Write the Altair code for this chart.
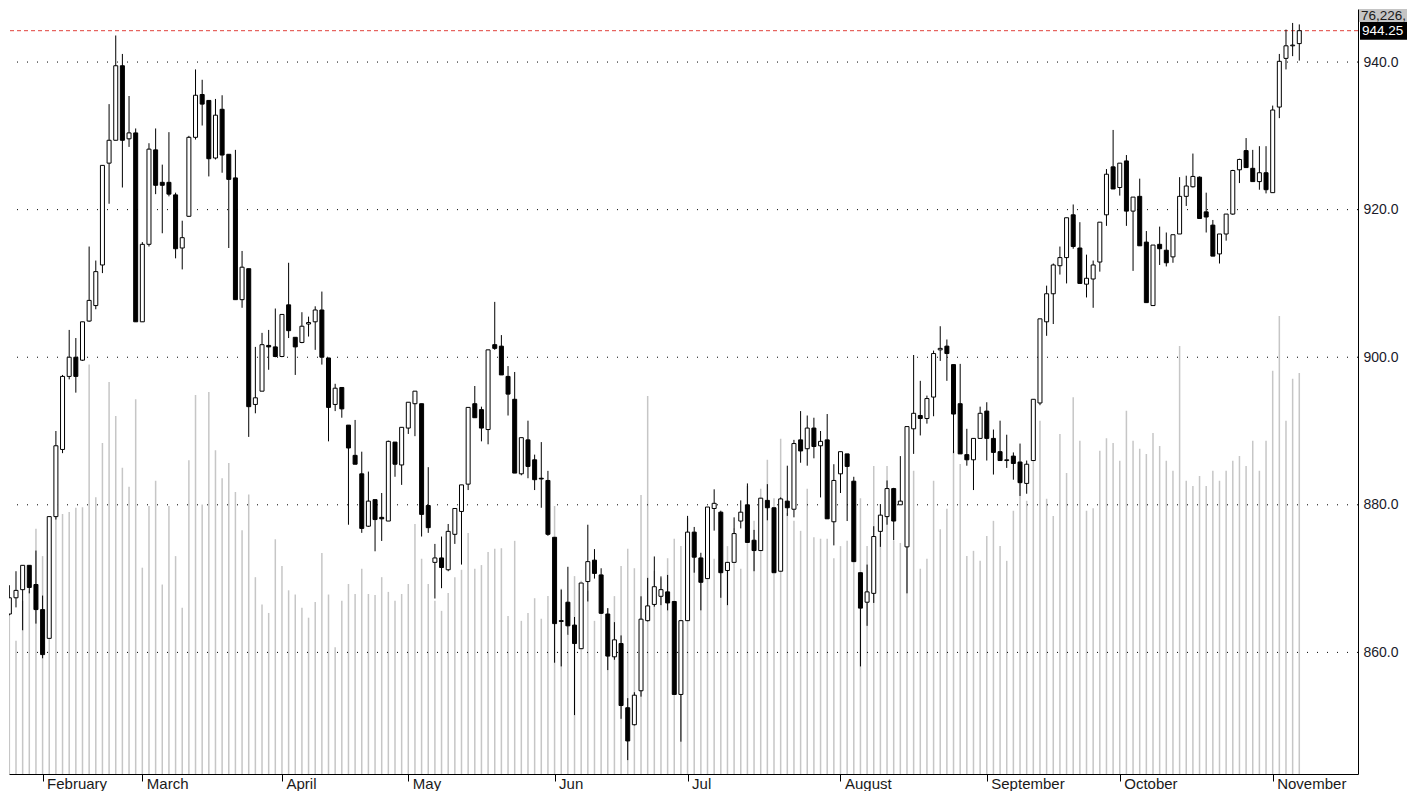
import altair as alt
import pandas as pd

# ---- data (daily candles, Feb..Nov) ----
opens = [861.4, 865.2, 867.4, 868.5, 871.8, 869.2, 865.8, 861.9, 878.4, 887.5,
         897.4, 900.0, 899.6, 904.9, 907.0, 912.5, 926.3, 929.4, 939.5, 929.6,
         930.4, 904.8, 915.3, 928.1, 923.7, 923.7,
         922.0, 914.8, 919.1, 929.8, 935.6, 934.8, 927.0, 933.6, 927.5, 924.3,
         907.8, 912.0, 893.6, 895.4, 901.6, 901.4, 900.1, 907.1, 902.7, 902.0,
         904.5, 904.8, 906.4, 899.9,
         893.6, 895.9, 890.8, 886.7, 884.2, 877.1, 880.7, 878.3, 877.8, 888.5,
         885.4, 890.4, 893.7, 893.7, 879.9, 872.2, 872.8, 871.2, 876.0, 879.1,
         882.8, 893.7, 892.9, 890.2, 901.7,
         901.5, 897.4, 894.3, 884.2, 888.8, 886.1, 883.6, 883.3, 875.6, 864.3,
         866.8, 863.7, 860.5, 869.6, 872.5, 870.5, 865.2, 859.4, 861.2, 852.5,
         850.2, 854.8, 864.3, 866.5, 867.6,
         868.2, 866.9, 854.3, 864.3, 876.3, 872.8, 870.0, 879.5, 879.0, 871.1,
         872.2, 877.8, 880.0, 875.2, 873.8, 880.6, 879.6, 871.0, 880.5, 879.4,
         888.8, 887.6, 890.4, 888.0, 888.8,
         877.7, 884.2, 886.9, 883.2, 870.8, 866.8, 868.0, 876.4, 878.4, 882.2,
         880.0, 874.3, 890.3, 892.1, 891.7, 894.6, 901.0, 901.5, 899.0, 893.7,
         886.8, 886.1, 889.0, 892.7,
         889.0, 887.2, 886.0, 886.6, 885.8, 882.9, 886.0, 893.8, 904.8, 908.6,
         912.4, 913.5, 919.3, 914.8, 909.9, 910.6, 912.9, 919.3, 925.8, 923.0,
         926.6, 919.8, 921.8, 915.6, 907.0,
         915.3, 914.5, 913.6, 916.7, 921.8, 923.1, 924.4, 919.7, 917.9, 914.0,
         916.7, 919.4, 925.4, 928.0, 925.6, 923.8, 925.0, 922.3, 933.9, 940.5,
         942.2, 942.5]

highs = [866.0, 869.1, 871.0, 871.8, 871.8, 873.8, 867.7, 878.4, 890.0, 897.6,
         903.7, 902.6, 904.8, 915.0, 913.1, 926.0, 934.3, 943.6, 941.1, 935.4,
         931.0, 915.6, 929.0, 931.0, 926.1, 930.5,
         922.3, 918.5, 930.0, 939.0, 937.6, 934.8, 935.0, 935.5, 927.5, 928.1,
         914.4, 912.0, 901.4, 903.3, 903.7, 906.6, 905.8, 912.8, 902.7, 906.1,
         905.5, 906.9, 908.9, 899.9,
         896.4, 895.9, 890.8, 891.5, 887.2, 884.5, 880.7, 881.6, 888.7, 888.5,
         890.5, 893.9, 895.4, 893.7, 885.1, 874.7, 875.7, 877.4, 879.5, 882.7,
         893.2, 896.1, 893.3, 901.0, 907.5,
         903.0, 898.8, 898.0, 889.1, 891.4, 886.8, 888.5, 884.6, 875.6, 868.5,
         871.6, 864.8, 869.4, 877.3, 874.0, 871.4, 866.0, 864.1, 862.3, 853.8,
         854.6, 867.6, 870.1, 873.0, 870.3,
         870.5, 866.9, 864.3, 878.5, 877.0, 873.5, 879.7, 882.1, 879.2, 872.2,
         878.3, 880.6, 882.9, 876.6, 880.9, 882.8, 879.6, 881.0, 885.3, 888.8,
         892.7, 892.1, 891.8, 890.0, 892.3,
         885.5, 887.2, 886.9, 883.8, 870.8, 871.9, 877.1, 880.1, 883.3, 882.3,
         886.6, 890.6, 900.3, 896.8, 894.8, 900.9, 904.2, 902.4, 899.0, 899.1,
         890.3, 889.0, 893.3, 893.9,
         890.2, 891.4, 889.5, 887.1, 888.3, 886.0, 894.3, 905.2, 909.7, 912.7,
         915.0, 918.9, 920.7, 918.3, 913.9, 913.1, 918.3, 925.5, 930.8, 926.3,
         927.4, 921.7, 924.2, 917.1, 915.2,
         917.7, 916.9, 916.6, 924.4, 924.6, 927.6, 924.5, 922.3, 918.6, 916.7,
         919.4, 925.4, 926.9, 929.7, 928.1, 928.6, 928.6, 934.1, 941.1, 944.4,
         945.3, 945.1]

lows = [861.0, 865.0, 866.1, 863.0, 868.0, 863.9, 859.2, 861.9, 878.0, 887.0,
        897.0, 895.2, 899.5, 904.8, 906.5, 911.4, 920.8, 929.4, 923.0, 928.5,
        904.8, 904.8, 915.0, 922.1, 916.8, 921.8,
        913.4, 911.9, 919.0, 929.5, 931.4, 924.5, 926.8, 925.0, 914.8, 907.8,
        906.7, 889.2, 892.4, 895.4, 898.3, 900.0, 900.0, 902.6, 897.6, 901.9,
        902.8, 901.0, 899.0, 888.6,
        892.7, 891.8, 877.3, 885.5, 876.2, 877.0, 873.7, 875.1, 877.8, 883.8,
        882.7, 889.6, 889.3, 875.7, 876.2, 867.3, 868.7, 871.0, 874.7, 871.9,
        882.0, 891.8, 888.6, 888.2, 901.0,
        897.6, 892.1, 884.3, 884.0, 883.6, 882.0, 879.6, 875.8, 858.6, 858.1,
        862.4, 851.5, 860.5, 866.9, 870.0, 865.2, 857.6, 859.0, 851.0, 845.4,
        850.1, 854.0, 864.2, 866.2, 866.4,
        865.7, 854.3, 847.9, 864.3, 870.8, 865.7, 870.0, 876.5, 867.4, 866.4,
        872.2, 876.8, 874.9, 871.0, 873.8, 877.9, 870.8, 871.0, 878.5, 878.3,
        885.7, 885.3, 886.3, 881.0, 878.1,
        874.5, 881.6, 877.8, 872.3, 858.1, 863.6, 866.7, 874.3, 877.3, 875.2,
        880.0, 868.0, 886.9, 889.4, 891.0, 892.0, 899.5, 896.8, 887.0, 886.9,
        885.3, 882.0, 889.0, 886.0,
        884.1, 886.0, 885.0, 883.4, 881.2, 881.5, 886.0, 893.5, 902.9, 904.5,
        911.2, 910.0, 914.7, 910.0, 908.1, 906.7, 911.6, 917.8, 922.8, 921.9,
        917.8, 911.7, 915.1, 907.4, 907.0,
        912.5, 912.3, 912.8, 916.7, 920.5, 923.0, 918.8, 916.9, 913.7, 912.7,
        915.8, 919.3, 923.6, 925.7, 923.8, 922.7, 922.2, 922.3, 932.4, 939.0,
        940.8, 940.2]

closes = [865.2, 867.4, 868.4, 871.8, 868.8, 865.8, 859.7, 878.4, 888.0, 897.4,
          900.0, 897.4, 904.8, 907.7, 911.6, 926.0, 929.4, 939.5, 929.4, 930.4,
          904.8, 915.3, 928.2, 923.3, 923.3, 922.1,
          914.7, 916.2, 929.8, 935.5, 934.3, 926.9, 932.8, 927.4, 924.1, 907.8,
          912.2, 893.3, 894.5, 901.7, 901.4, 900.1, 905.8, 903.6, 901.4, 904.2,
          904.7, 906.4, 900.0, 893.2,
          895.8, 893.0, 887.7, 885.5, 876.8, 880.5, 878.0, 878.1, 888.6, 885.5,
          890.5, 893.9, 895.4, 878.7, 876.9, 872.8, 871.5, 876.4, 879.5, 882.7,
          893.2, 891.8, 890.4, 901.0, 901.2,
          897.6, 895.0, 884.3, 889.1, 885.2, 883.4, 883.5, 876.0, 863.9, 864.2,
          863.6, 861.2, 869.4, 872.3, 870.7, 865.3, 859.5, 861.7, 852.8, 848.0,
          854.2, 864.5, 866.3, 868.9, 868.5,
          866.7, 854.3, 864.3, 876.3, 872.9, 869.5, 879.7, 880.2, 870.8, 872.2,
          876.1, 879.0, 874.9, 873.8, 880.9, 879.6, 870.8, 880.8, 879.6, 888.3,
          887.3, 890.4, 887.9, 888.6, 878.1,
          883.3, 887.2, 885.2, 872.3, 866.0, 868.2, 875.7, 878.6, 882.2, 877.8,
          880.5, 890.6, 892.4, 891.7, 894.4, 900.5, 901.2, 900.5, 892.3, 886.9,
          886.1, 889.0, 892.4, 889.0,
          887.1, 886.0, 886.1, 885.6, 883.0, 885.5, 894.3, 905.2, 908.6, 912.5,
          913.5, 918.9, 915.0, 910.0, 910.7, 912.5, 918.3, 924.8, 922.8, 926.3,
          919.8, 921.7, 915.1, 907.4, 915.2,
          914.7, 912.8, 916.6, 921.8, 923.2, 924.5, 918.8, 919.0, 913.7, 916.7,
          919.4, 925.3, 926.8, 925.7, 923.8, 925.0, 922.7, 933.5, 940.1, 942.2,
          942.3, 944.25]

# volume, thousands of contracts
volumes = [31.0, 30.0, 25.3, 32.9, 34.8, 46.6, 41.4, 49.0, 49.6, 49.4,
           49.8, 50.6, 50.7, 77.8, 52.6, 62.9, 74.5, 68.0, 58.2, 54.6,
           71.2, 39.2, 50.9, 55.7, 36.0, 50.9,
           41.4, 31.6, 59.6, 72.0, 51.2, 72.6, 61.5, 56.2, 59.1, 53.6,
           46.3, 53.1, 37.4, 32.2, 30.6, 44.6, 39.5, 34.9, 34.1, 31.6,
           29.7, 32.7, 42.0, 34.1,
           24.1, 32.9, 36.1, 34.2, 39.0, 34.2, 34.0, 37.4, 34.6, 32.9,
           34.2, 36.1, 47.5, 40.9, 36.1, 32.9, 31.0, 34.4, 37.4, 38.8,
           45.8, 39.0, 39.7, 42.2, 42.8,
           42.9, 30.0, 44.3, 29.1, 30.6, 33.4, 29.5, 33.8, 50.9, 35.2,
           26.6, 37.6, 36.7, 34.8, 29.1, 30.9, 31.5, 33.8, 39.5, 42.8,
           39.1, 53.0, 71.8, 38.6, 37.2,
           41.0, 44.7, 43.3, 48.6, 44.7, 41.0, 49.0, 40.9, 45.8, 43.3,
           46.7, 39.0, 54.7, 48.1, 54.2, 59.7, 52.4, 63.7, 49.6, 48.1,
           46.2, 54.2, 45.0, 44.7, 44.7,
           41.0, 43.3, 44.3, 43.3, 52.4, 43.3, 58.5, 45.6, 58.5, 44.3,
           43.9, 63.3, 57.6, 39.0, 40.9, 55.7, 46.5, 50.4, 61.4, 58.9,
           41.4, 42.4, 40.5, 45.2,
           48.1, 43.3, 40.5, 50.0, 55.7, 51.9, 61.4, 67.1, 52.3, 49.0,
           64.6, 57.2, 71.6, 63.3, 50.0, 50.5, 61.4, 63.8, 62.9, 59.5,
           69.0, 63.3, 61.8, 60.8, 64.8,
           62.3, 59.5, 57.6, 81.3, 55.7, 54.7, 56.6, 54.7, 57.6, 55.7,
           57.6, 59.5, 60.4, 58.5, 63.3, 57.6, 63.3, 76.6, 87.0, 67.1,
           75.1, 76.2]

month_names = ["February", "March", "April", "May", "Jun", "Jul",
               "August", "September", "October", "November"]
month_index = [6, 21, 42, 61, 83, 103, 126, 148, 168, 191]
price_ticks = [860, 880, 900, 920, 940]
last_close = 944.25
volume_label = "76,226,"

# ---- layout ----
# plot area starts at page x=8 (body margin); the reference's first 8 px are clipped
W, H = 1349, 765
FONT = "Liberation Sans"
n = len(closes)
df = pd.DataFrame({"i": list(range(n)), "open": opens, "high": highs,
                   "low": lows, "close": closes, "volume": volumes})

xscale = alt.Scale(domain=[0.9475, 203.83], nice=False, zero=False, padding=0)
ydom = [843.52, 947.19]
yscale = alt.Scale(domain=ydom, nice=False, zero=False)
vscale = alt.Scale(domain=[0, 145.35], nice=False, zero=True)
ppx = (ydom[1] - ydom[0]) / H  # price units per pixel

label_expr = " : ".join(
    f"datum.value == {v} ? '{m}'" for v, m in zip(month_index, month_names)
) + " : ''"

x_axis = alt.Axis(values=month_index, labelExpr=label_expr, labelAlign="left",
                  labelOffset=4, labelPadding=-5, tickSize=7, tickColor="black",
                  domainColor="black", grid=False, title=None, labelFont=FONT,
                  labelFontSize=15, labelColor="#1a1a1a", labelOverlap=False,
                  labelFlush=False, labelBound=False)
y_axis = alt.Axis(orient="right", values=price_ticks, format=".1f", grid=False,
                  ticks=False, labelPadding=5, domainColor="black", title=None,
                  labelFont=FONT, labelFontSize=14, labelColor="#1a1a2a")

base = alt.Chart(df)
X = alt.X("i:Q", scale=xscale, axis=x_axis)

vol = base.mark_rule(color="#c6c6c6", strokeWidth=1.5, clip=True).encode(
    x=X,
    y=alt.Y("volume:Q", scale=vscale, axis=None),
    y2=alt.datum(0),
)

grid = alt.Chart(pd.DataFrame({"p": price_ticks})).mark_rule(
    color="black", strokeDash=[1, 9], strokeWidth=1
).encode(y=alt.Y("p:Q", scale=yscale, axis=None))

last_df = pd.DataFrame({"p": [last_close], "t": [f"{last_close:.2f}"],
                        "ptop": [last_close + 9 * ppx], "pbot": [last_close - 9 * ppx]})
redline = alt.Chart(last_df).mark_rule(
    color="#e0403a", strokeDash=[4, 3], strokeWidth=1
).encode(y=alt.Y("p:Q", scale=yscale, axis=None))

wicks = base.mark_rule(color="black", strokeWidth=1, clip=True).encode(
    x=X,
    y=alt.Y("low:Q", scale=yscale, axis=y_axis),
    y2="high:Q",
)

bodies = base.mark_bar(size=4, stroke="black", strokeWidth=1, clip=True).encode(
    x=X,
    y=alt.Y("open:Q", scale=yscale, axis=None),
    y2="close:Q",
    fill=alt.condition("datum.close >= datum.open", alt.value("white"), alt.value("black")),
)

price_box = alt.Chart(last_df).mark_rect(color="black").encode(
    x=alt.value(W + 2), x2=alt.value(W + 49),
    y=alt.Y("ptop:Q", scale=yscale, axis=None), y2="pbot:Q",
)
price_txt = alt.Chart(last_df).mark_text(
    align="left", baseline="middle", color="white", font=FONT, fontSize=13.5
).encode(x=alt.value(W + 4), y=alt.Y("p:Q", scale=yscale, axis=None), text="t:N")

vol_df = pd.DataFrame({"t": [volume_label]})
vol_box = alt.Chart(vol_df).mark_rect(color="#c4c4c4").encode(
    x=alt.value(W + 1), x2=alt.value(W + 49), y=alt.value(0), y2=alt.value(13),
)
vol_txt = alt.Chart(vol_df).mark_text(
    align="left", baseline="middle", color="#1a1a1a", font=FONT, fontSize=13.5
).encode(x=alt.value(W + 3), y=alt.value(6.5), text="t:N")

chart = alt.layer(
    vol, grid, redline, wicks, bodies, price_box, price_txt, vol_box, vol_txt
).resolve_scale(y="independent").properties(
    width=W, height=H, padding={"left": 0, "top": 0, "right": 0, "bottom": 0},
    background="white",
).configure_view(stroke=None)

chart.save("out.html", embed_options={"renderer": "svg", "actions": False})
